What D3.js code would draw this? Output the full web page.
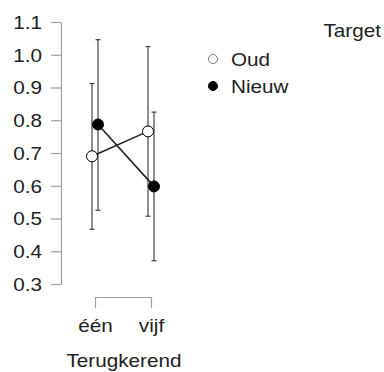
<!DOCTYPE html>
<html>
<head>
<meta charset="utf-8">
<script src="https://cdn.jsdelivr.net/npm/d3@7"></script>
<style>
  html, body { margin: 0; padding: 0; background: #fff; }
  svg { display: block; font-family: "Liberation Sans", Arial, Helvetica, sans-serif; }
</style>
</head>
<body>
<div id="chart"></div>
<script>
// Data
const categories = ['één', 'vijf'];
const groups = ['Oud', 'Nieuw'];
const oudMean = [0.690, 0.766];
const oudLower = [0.467, 0.507];
const oudUpper = [0.912, 1.025];
const nieuwMean = [0.787, 0.598];
const nieuwLower = [0.525, 0.371];
const nieuwUpper = [1.046, 0.825];
const yTicks = [0.3, 0.4, 0.5, 0.6, 0.7, 0.8, 0.9, 1.0, 1.1];

const width = 384;
const height = 372;
const fontSize = 18;
const stretch = 1.15; // reference text is a bit wide

const svg = d3.select('#chart')
    .append('svg')
    .attr('width', width)
    .attr('height', height);

// place text with a horizontal stretch
function placeText(sel, x, y) {
    sel.attr('x', 0).attr('y', 0).attr('dy', null)
        .attr('transform', `translate(${x},${y}) scale(${stretch},1)`)
        .attr('fill', '#222')
        .style('font-size', fontSize + 'px');
}

const y = d3.scaleLinear().domain([0.3, 1.1]).range([284, 22]);
const x = d3.scalePoint().domain(categories).range([95, 151]);

// dodge per group
const dodge = { Oud: -3, Nieuw: 3 };
const fills = { Oud: '#fff', Nieuw: '#000' };

const series = [
    { name: 'Oud', mean: oudMean, lower: oudLower, upper: oudUpper },
    { name: 'Nieuw', mean: nieuwMean, lower: nieuwLower, upper: nieuwUpper }
];

// Y axis
const yAxis = svg.append('g')
    .attr('transform', 'translate(61,0)')
    .call(d3.axisLeft(y).tickValues(yTicks).tickFormat(d3.format('.1f'))
        .tickSize(10).tickSizeOuter(0));
yAxis.select('.domain').attr('stroke', '#a0a0a0').attr('stroke-width', 1.2);
yAxis.selectAll('.tick line').attr('stroke', '#a0a0a0').attr('stroke-width', 1.2);
yAxis.selectAll('.tick text').call(placeText, -19, 6.3);

// X axis (bracket)
const xAxis = svg.append('g')
    .attr('transform', 'translate(0,297)')
    .call(d3.axisBottom(x).tickSize(11).tickSizeOuter(0));
xAxis.select('.domain').attr('stroke', '#a0a0a0').attr('stroke-width', 1.2);
xAxis.selectAll('.tick line').attr('stroke', '#a0a0a0').attr('stroke-width', 1.2);
xAxis.selectAll('.tick text').call(placeText, 0, 35);

svg.append('text')
    .attr('text-anchor', 'middle')
    .text('Terugkerend')
    .call(placeText, 124, 367);

// Error bars
series.forEach(s => {
    const g = svg.append('g');
    categories.forEach((c, i) => {
        const cx = x(c) + dodge[s.name];
        g.append('line')
            .attr('x1', cx).attr('x2', cx)
            .attr('y1', y(s.lower[i])).attr('y2', y(s.upper[i]))
            .attr('stroke', '#444').attr('stroke-width', 1.2);
        [s.lower[i], s.upper[i]].forEach(v => {
            g.append('line')
                .attr('x1', cx - 2.5).attr('x2', cx + 2.5)
                .attr('y1', y(v)).attr('y2', y(v))
                .attr('stroke', '#444').attr('stroke-width', 1.2);
        });
    });
});

// Connecting lines
const line = d3.line()
    .x(d => x(d.c) + dodge[d.g])
    .y(d => y(d.v));

series.forEach(s => {
    svg.append('path')
        .datum(categories.map((c, i) => ({ c, g: s.name, v: s.mean[i] })))
        .attr('d', line)
        .attr('fill', 'none')
        .attr('stroke', '#222')
        .attr('stroke-width', 1.6);
});

// Points
series.forEach(s => {
    svg.append('g').selectAll('circle')
        .data(categories.map((c, i) => ({ c, v: s.mean[i] })))
        .enter()
        .append('circle')
        .attr('cx', d => x(d.c) + dodge[s.name])
        .attr('cy', d => y(d.v))
        .attr('r', 5.5)
        .attr('fill', fills[s.name])
        .attr('stroke', '#000')
        .attr('stroke-width', 1);
});

// Legend
svg.append('text')
    .attr('text-anchor', 'end')
    .text('Target')
    .call(placeText, 381, 37);

const legend = svg.append('g');
groups.forEach((gname, i) => {
    const ly = 59 + i * 27;
    legend.append('circle')
        .attr('cx', 213).attr('cy', ly)
        .attr('r', 4.5)
        .attr('fill', fills[gname])
        .attr('stroke', gname === 'Oud' ? '#777' : '#000')
        .attr('stroke-width', 1);
    legend.append('text')
        .text(gname)
        .call(placeText, 231, ly + 6.5);
});
</script>
</body>
</html>
